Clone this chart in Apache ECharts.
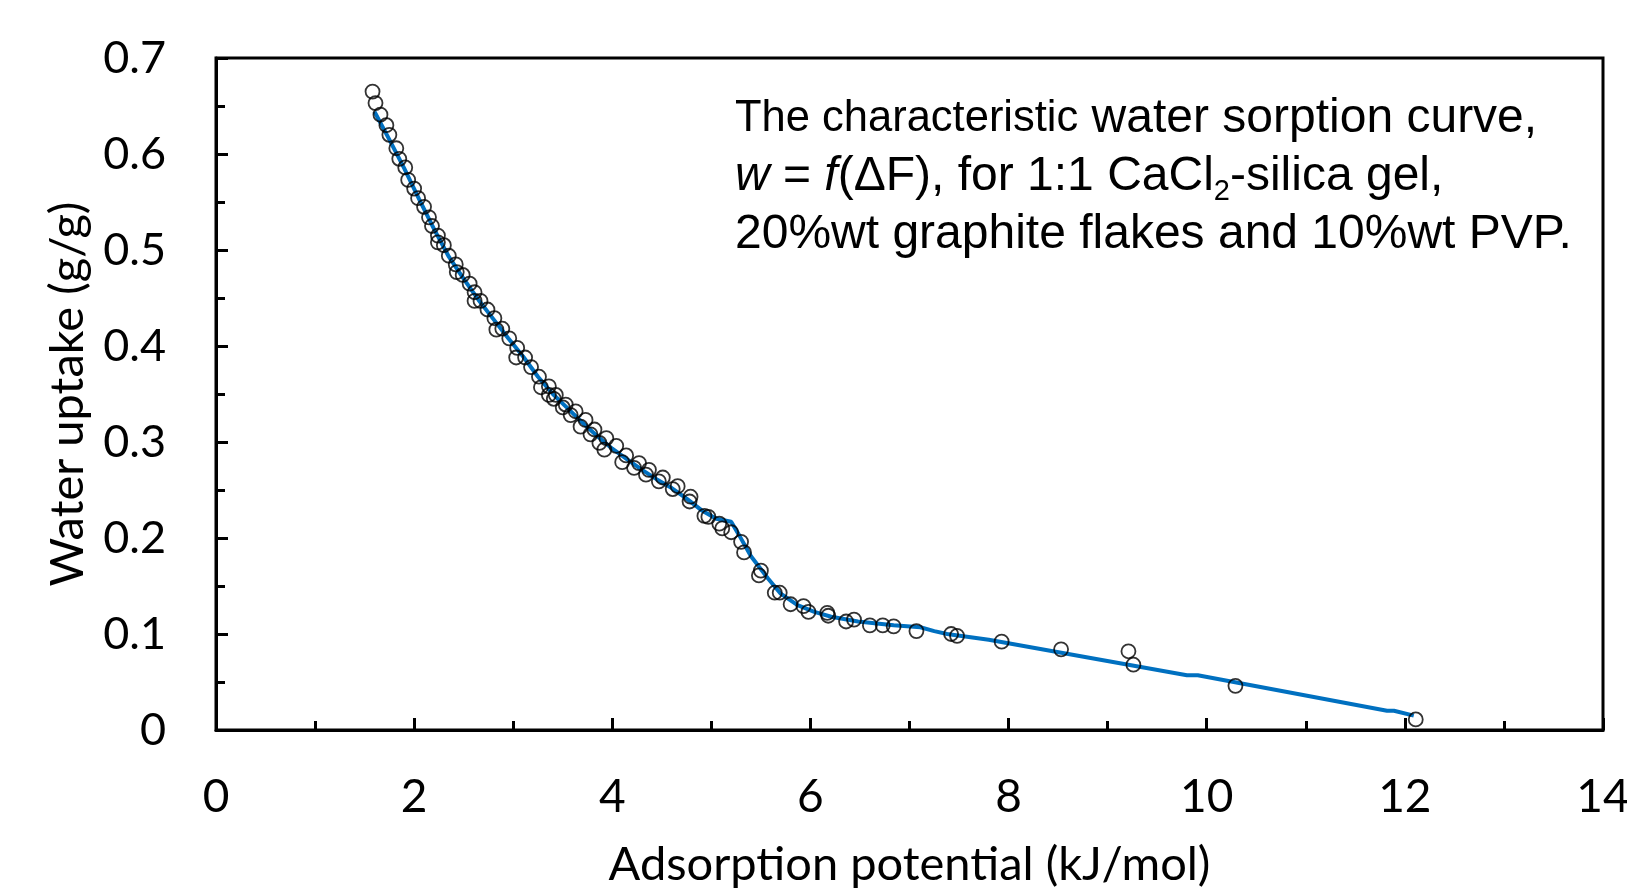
<!DOCTYPE html>
<html>
<head>
<meta charset="utf-8">
<script src="https://cdn.jsdelivr.net/npm/echarts@6/dist/echarts.min.js"></script>
<style>
html,body{margin:0;padding:0;background:#fff;}
#chart{width:1627px;height:891px;}
</style>
</head>
<body>
<div id="chart"></div>
<script>
// Measured points: adsorption potential (kJ/mol)
const pointsX = [1.58,1.61,1.66,1.72,1.75,1.82,1.85,1.91,1.94,2.00,2.04,2.10,2.15,2.18,2.24,2.24,2.30,2.35,2.42,2.43,2.49,2.56,2.61,2.61,2.67,2.74,2.81,
  2.83,2.89,2.96,3.04,3.03,3.12,3.18,3.26,3.28,3.36,3.36,3.43,3.41,3.53,3.50,3.63,3.58,3.73,3.68,3.82,3.78,3.94,3.87,3.92,4.04,4.14,4.10,4.27,4.22,4.37,4.34,4.51,4.47,4.66,4.61,4.79,4.78,
  4.93,4.97,5.08,5.11,5.20,5.30,5.33,5.50,5.48,5.64,5.69,5.80,5.93,5.98,6.17,6.18,6.36,6.44,6.60,6.73,6.84,7.07,
  7.42,7.48,7.93,8.53,9.21,9.26,10.29,12.11];
// Measured points: water uptake (g/g)
const pointsY = [0.665,0.653,0.641,0.630,0.620,0.606,0.595,0.586,0.573,0.564,0.554,0.545,0.534,0.525,0.515,0.508,0.505,0.494,0.485,0.477,0.474,0.465,0.456,0.447,0.447,0.438,0.429,
  0.417,0.418,0.408,0.398,0.388,0.388,0.378,0.368,0.357,0.358,0.349,0.349,0.345,0.339,0.336,0.332,0.328,0.323,0.316,0.313,0.308,0.304,0.299,0.292,0.296,0.286,0.279,0.278,0.273,0.271,0.266,0.263,0.259,0.254,0.251,0.243,0.238,
  0.223,0.222,0.215,0.210,0.206,0.196,0.185,0.166,0.161,0.143,0.143,0.131,0.129,0.123,0.122,0.119,0.113,0.115,0.109,0.109,0.108,0.103,
  0.100,0.098,0.092,0.084,0.082,0.068,0.046,0.011];
// Characteristic curve
const curveX = [1.60,1.75,1.90,2.05,2.20,2.35,2.50,2.65,2.80,2.95,3.10,3.25,3.40,3.55,3.70,3.85,4.00,4.15,4.30,4.45,4.60,4.75,4.90,5.05,5.20,5.28,5.40,5.57,5.70,5.87,6.04,6.21,6.48,6.84,7.11,7.25,7.38,7.80,9.80,9.91,11.82,11.89,12.09];
const curveY = [0.644,0.615,0.585,0.553,0.522,0.493,0.470,0.448,0.428,0.408,0.389,0.368,0.350,0.335,0.320,0.306,0.293,0.282,0.271,0.261,0.252,0.241,0.229,0.220,0.217,0.203,0.181,0.158,0.142,0.130,0.123,0.118,0.113,0.109,0.107,0.103,0.100,0.094,0.057,0.057,0.020,0.020,0.015];

const xTitle = 'Adsorption potential (kJ/mol)';
const yTitle = 'Water uptake (g/g)';
const noteText = '{n|The characteristic} water sorption curve,\n{i|w} = {i|f}(ΔF), for 1:1 CaCl{sub|2}-silica gel,\n20%wt graphite flakes and 10%wt PVP.';

const scatterData = pointsX.map((x, i) => [x, pointsY[i]]);
const curveData = curveX.map((x, i) => [x, curveY[i]]);

const axisFont = 'Lato';
const noteFont = 'Liberation Sans';
const axisCommon = {
  axisLine: {show: true, lineStyle: {color: '#000', width: 3}},
  axisTick: {show: true, inside: true, length: 12, lineStyle: {color: '#000', width: 3}},
  minorTick: {show: true, splitNumber: 2, length: 9, lineStyle: {color: '#000', width: 3}},
  splitLine: {show: false},
  minorSplitLine: {show: false},
  nameLocation: 'middle',
  nameTextStyle: {fontFamily: axisFont, fontSize: 47, color: '#000'}
};

const chart = echarts.init(document.getElementById('chart'), null, {renderer: 'canvas'});
chart.setOption({
  backgroundColor: '#fff',
  animation: false,
  title: {
    text: noteText,
    left: 735,
    top: 90,
    padding: 0,
    textStyle: {
      fontFamily: noteFont,
      fontSize: 48,
      fontWeight: 'normal',
      lineHeight: 58,
      color: '#000',
      rich: {
        n: {fontFamily: noteFont, fontSize: 43.5, lineHeight: 58, color: '#000'},
        i: {fontFamily: noteFont, fontSize: 48, fontStyle: 'italic', lineHeight: 58, color: '#000'},
        sub: {fontFamily: noteFont, fontSize: 29, lineHeight: 31, verticalAlign: 'bottom', color: '#000'}
      }
    }
  },
  grid: {
    left: 216, top: 58, right: 24, bottom: 161,
    outerBoundsMode: 'none',
    containLabel: false,
    show: true, borderColor: '#000', borderWidth: 3, backgroundColor: 'transparent'
  },
  xAxis: Object.assign({}, axisCommon, {
    type: 'value', min: 0, max: 14, interval: 2,
    name: xTitle, nameGap: 111,
    axisLabel: {margin: 44, fontFamily: axisFont, fontSize: 46, color: '#000'}
  }),
  yAxis: Object.assign({}, axisCommon, {
    type: 'value', min: 0, max: 0.7, interval: 0.1,
    name: yTitle, nameGap: 125, nameRotate: 90,
    axisLabel: {margin: 50, fontFamily: axisFont, fontSize: 45, color: '#000'}
  }),
  series: [
    {
      type: 'line', data: curveData, showSymbol: false, smooth: false,
      lineStyle: {color: '#0070C0', width: 4}, z: 2, silent: true
    },
    {
      type: 'scatter', data: scatterData, symbol: 'circle', symbolSize: 14,
      itemStyle: {color: 'rgba(0,0,0,0)', borderColor: '#000', borderWidth: 1.8}, z: 3
    }
  ]
});
</script>
</body>
</html>
